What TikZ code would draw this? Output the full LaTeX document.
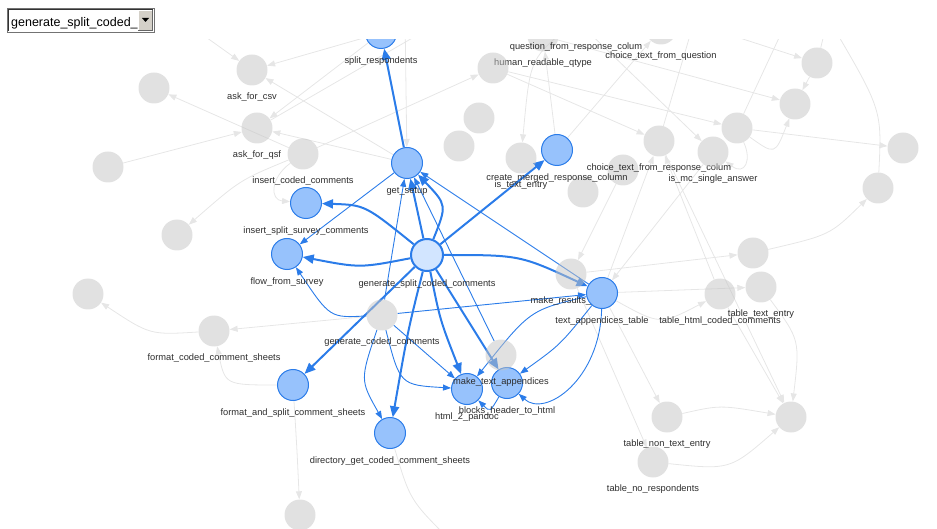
\documentclass[tikz,border=0pt]{standalone}
\usepackage{fontspec}
\setmainfont{Liberation Sans}
\usetikzlibrary{arrows.meta}
\pgfdeclarelayer{edgelayer}
\pgfsetlayers{edgelayer,main}
\definecolor{bfill}{RGB}{151,194,252}
\definecolor{bline}{RGB}{43,124,233}
\definecolor{sfill}{RGB}{210,229,255}
\definecolor{gfill}{RGB}{196,196,196}
\definecolor{gedge}{RGB}{230,230,230}
\definecolor{ltext}{RGB}{45,45,45}
\definecolor{btn}{RGB}{212,208,200}
\tikzset{
  lbl/.style={font=\fontsize{9.3}{10}\selectfont, text=ltext, inner sep=0pt, text height=7pt, text depth=2pt, fill opacity=1, text opacity=1},
  bnode/.style={circle, minimum size=31pt, inner sep=0pt, fill=bfill, draw=bline, line width=1pt},
  snode/.style={circle, minimum size=32pt, inner sep=0pt, fill=sfill, draw=bline, line width=2pt},
  gnode/.style={circle, minimum size=31pt, inner sep=0pt, fill=gfill, fill opacity=0.5, draw=none},
  ge/.style={draw=gedge, line width=0.8pt, -{Triangle[length=8pt,width=6pt]}},
  te/.style={draw=bline, line width=0.9pt, -{Triangle[length=8pt,width=6pt]}},
  ke/.style={draw=bline, line width=2pt, -{Triangle[length=11pt,width=9pt]}}
}
\begin{document}
\begin{tikzpicture}[x=1pt,y=-1pt,label distance=7pt,every label/.style={lbl}]
\useasboundingbox (0,0) rectangle (937,529);

\begin{scope}
\clip (0,40) rectangle (937,529);
% free ends
\coordinate (t1) at (196,30);
\coordinate (t2) at (440,22);
\coordinate (t3) at (405,15);
\coordinate (t5) at (715,30);
\coordinate (t6) at (828,18);
\coordinate (t7) at (455,545);
\coordinate (t8) at (693,25);
\coordinate (t9) at (785,25);
% grey nodes
\node[gnode,label=below:ask\_for\_csv] (acsv) at (252,70) {};
\node[gnode,label=below:ask\_for\_qsf] (aqsf) at (257,128) {};
\node[gnode,label=below:insert\_coded\_comments] (icc) at (303,154) {};
\node[gnode,label=below:format\_coded\_comment\_sheets] (fcc) at (214,331) {};
\node[gnode,label=below:generate\_coded\_comments] (gcc) at (382,315) {};
\node[gnode,label=below:make\_results\_table] (mrt) at (571,274) {};
\node[gnode,label=below:human\_readable\_qtype] (hrq) at (543,36) {};
\node[gnode,label=below:question\_from\_response\_colum] (qfr) at (576,20) {};
\node[gnode,label=below:choice\_text\_from\_question] (ctq) at (661,29) {};
\node[gnode] (g1) at (154,88) {};
\node[gnode] (g2) at (108,167) {};
\node[gnode] (g3) at (177,235) {};
\node[gnode] (g4) at (88,294) {};
\node[gnode] (g5) at (300,515) {};
\node[gnode] (g6) at (493,68) {};
\node[gnode] (g7) at (479,118) {};
\node[gnode] (g8) at (459,146) {};
\node[gnode] (g9) at (583,192) {};
\node[gnode] (g10) at (623,170) {};
\node[gnode] (g11) at (817,63) {};
\node[gnode] (g12) at (795,104) {};
\node[gnode] (g13) at (737,128) {};
\node[gnode] (g14) at (903,148) {};
\node[gnode] (g15) at (878,188) {};
\node[gnode] (g16) at (753,253) {};
\node[gnode] (g17) at (791,417) {};
\node[gnode,label=below:is\_text\_entry] (ite) at (521,158) {};
\node[gnode,label=below:choice\_text\_from\_response\_colum] (ctr) at (659,141) {};
\node[gnode,label=below:is\_mc\_single\_answer] (imc) at (713,152) {};
\node[gnode,label=below:table\_html\_coded\_comments] (thc) at (720,294) {};
\node[gnode,label=below:table\_text\_entry] (tte) at (761,287) {};
\node[gnode,label=below:table\_non\_text\_entry] (tnt) at (667,417) {};
\node[gnode,label=below:table\_no\_respondents] (tnr) at (653,462) {};
% blue nodes
\node[bnode,label=below:split\_respondents] (sr) at (381,33) {};
\node[bnode,label=below:get\_setup] (gs) at (407,163) {};
\node[bnode,label=below:create\_merged\_response\_column] (cm) at (557,150) {};
\node[bnode,label=below:insert\_split\_survey\_comments] (iss) at (306,203) {};
\node[bnode,label=below:flow\_from\_survey] (ffs) at (287,254) {};
\node[bnode,label=below:text\_appendices\_table] (tat) at (602,293) {};
\node[bnode,label=below:format\_and\_split\_comment\_sheets] (fas) at (293,385) {};
\node[bnode,label=below:directory\_get\_coded\_comment\_sheets] (dg) at (390,433) {};
\node[bnode,label=below:html\_2\_pandoc] (h2p) at (467,389) {};
\node[bnode,label=below:blocks\_header\_to\_html] (bh) at (507,383) {};
\node[snode,label=below:generate\_split\_coded\_comments] (c) at (427,255) {};
\node[gnode,label=below:make\_text\_appendices] (mta) at (501,355) {};
\end{scope}

\begin{pgfonlayer}{edgelayer}
\begin{scope}
\clip (0,40) rectangle (937,529);
% grey edges
\draw[ge] (t1) -- (acsv);
\draw[ge] (sr) -- (acsv);
\draw[ge] (gs) -- (acsv);
\draw[ge] (sr) -- (aqsf);
\draw[ge] (icc) -- (g1);
\draw[ge] (g2) -- (aqsf);
\draw[ge] (gs) -- (aqsf);
\draw[ge] (aqsf) -- (t2);
\draw[ge] (icc) .. controls (240,180) .. (g3);
\draw[ge] (icc) .. controls (270,178) and (270,200) .. (iss);
\draw[ge] (icc) -- (g6);
\draw[ge] (t3) -- (gs);
\draw[ge] (g6) -- (ctr);
\draw[ge] (qfr) .. controls (530,60) .. (ite);
\draw[ge] (cm) -- (hrq);
\draw[ge] (cm) -- (ctq);
\draw[ge] (g6) -- (g13);
\draw[ge] (qfr) -- (imc);
\draw[ge] (t5) -- (g11);
\draw[ge] (g11) -- (g12);
\draw[ge] (g11) -- (t6);
\draw[ge] (g15) .. controls (882,110) .. (t6);
\draw[ge] (hrq) -- (g12);
\draw[ge] (g13) .. controls (775,155) .. (g12);
\draw[ge] (g13) -- (g14);
\draw[ge] (g13) .. controls (752,160) and (745,176) .. (imc);
\draw[ge] (tat) -- (ctr);
\draw[ge] (thc) -- (ctr);
\draw[ge] (imc) -- (tat);
\draw[ge] (ctr) -- (g17);
\draw[ge] (ctr) -- (t8);
\draw[ge] (g13) -- (t9);
\draw[ge] (mrt) -- (g16);
\draw[ge] (g16) .. controls (830,235) .. (g15);
\draw[ge] (tat) -- (tte);
\draw[ge] (tat) .. controls (660,325) .. (thc);
\draw[ge] (tat) -- (tnt);
\draw[ge] (mrt) -- (tnr);
\draw[ge] (tnt) .. controls (720,405) .. (g17);
\draw[ge] (tnr) .. controls (730,470) .. (g17);
\draw[ge] (thc) -- (g17);
\draw[ge] (tte) .. controls (800,340) .. (g17);
\draw[ge] (gcc) -- (fcc);
\draw[ge] (fcc) .. controls (150,335) .. (g4);
\draw[ge] (fas) .. controls (225,385) .. (fcc);
\draw[ge] (fas) .. controls (297,450) .. (g5);
\draw[ge] (dg) .. controls (410,500) .. (t7);
\draw[ge] (g10) -- (mrt);
% thin blue edges
\draw[te] (gcc) -- (gs);
\draw[te] (gs) -- (ffs);
\draw[te] (gcc) .. controls (330,318) .. (ffs);
\draw[te] (gcc) -- (tat);
\draw[te] (gcc) .. controls (360,380) .. (dg);
\draw[te] (gcc) .. controls (400,385) .. (h2p);
\draw[te] (gcc) -- (h2p);
\draw[te] (tat) -- (gs);
\draw[te] (mta) -- (gs);
\draw[te] (tat) .. controls (530,310) .. (h2p);
\draw[te] (tat) .. controls (560,345) .. (bh);
\draw[te] (bh) .. controls (490,412) .. (h2p);
\draw[te] (tat) .. controls (600,380) and (545,418) .. (bh);
% thick blue edges
\draw[ke] (c) -- (gs);
\draw[ke] (c) .. controls (447,205) .. (gs);
\draw[ke] (gs) -- (sr);
\draw[ke] (c) .. controls (365,205) .. (iss);
\draw[ke] (c) .. controls (360,268) .. (ffs);
\draw[ke] (c) -- (cm);
\draw[ke] (c) .. controls (520,255) .. (tat);
\draw[ke] (c) -- (fas);
\draw[ke] (c) .. controls (408,330) .. (dg);
\draw[ke] (c) .. controls (440,320) .. (h2p);
\draw[ke] (c) -- (bh);
\end{scope}
\end{pgfonlayer}

% drop-down box
\node[draw=black!55, line width=1pt, fill=white, minimum width=147pt, minimum height=24pt, inner sep=0pt, anchor=north west] (dd) at (7,8) {};
\draw[black!80, line width=1pt] (8.5,31) -- (8.5,9.5) -- (153,9.5);
\begin{scope}
\clip (9,10) rectangle (137.5,31);
\node[anchor=base west, inner sep=0pt, font=\fontsize{12.5}{14}\selectfont] (ddtext) at (11,26.5) {generate\_split\_coded\_};
\end{scope}
\node[fill=btn, draw=none, minimum width=15pt, minimum height=21pt, inner sep=0pt, anchor=north west] (ddbtn) at (138,10) {};
\draw[white, line width=0.8pt] (138.4,30.6) -- (138.4,10.4) -- (152.6,10.4);
\draw[black!60, line width=0.8pt] (138.4,30.6) -- (152.6,30.6) -- (152.6,10.4);
\fill[black] (142,18) -- (149,18) -- (145.5,22) -- cycle;
\end{tikzpicture}
\end{document}
